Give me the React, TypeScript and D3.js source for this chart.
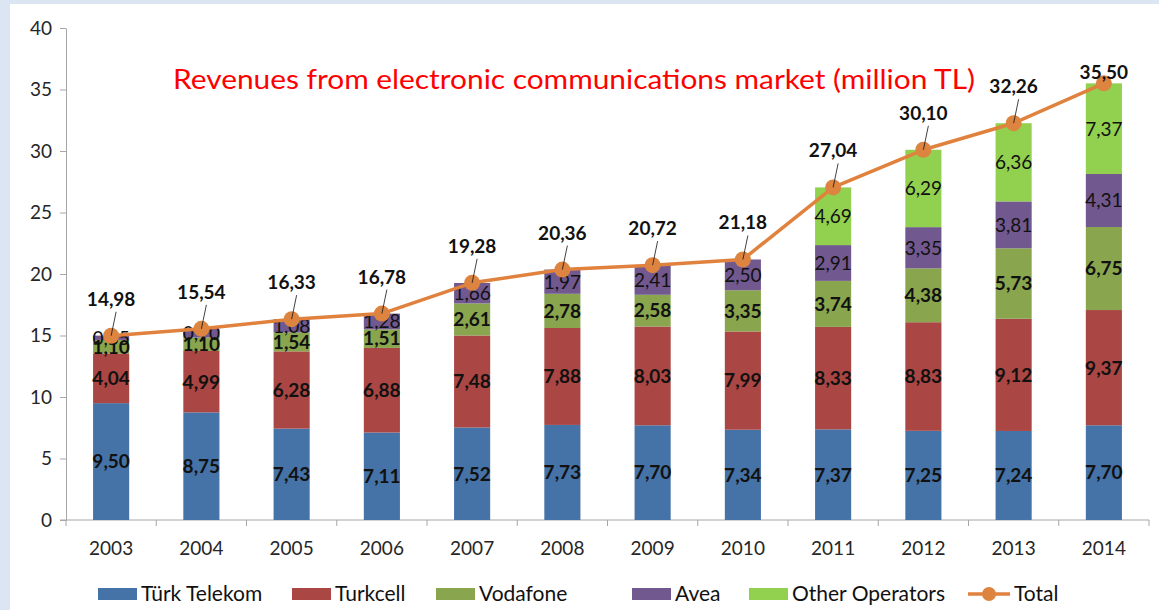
import { useEffect, useRef } from "react";
import * as d3 from "d3";

const years = ["2003", "2004", "2005", "2006", "2007", "2008", "2009", "2010", "2011", "2012", "2013", "2014"];
const turkTelekom = [9.5, 8.75, 7.43, 7.11, 7.52, 7.73, 7.7, 7.34, 7.37, 7.25, 7.24, 7.7];
const turkcell = [4.04, 4.99, 6.28, 6.88, 7.48, 7.88, 8.03, 7.99, 8.33, 8.83, 9.12, 9.37];
const vodafone = [1.1, 1.1, 1.54, 1.51, 2.61, 2.78, 2.58, 3.35, 3.74, 4.38, 5.73, 6.75];
const avea = [0.35, 0.7, 1.08, 1.28, 1.66, 1.97, 2.41, 2.5, 2.91, 3.35, 3.81, 4.31];
const otherOperators = [0, 0, 0, 0, 0, 0, 0, 0, 4.69, 6.29, 6.36, 7.37];
const total = [14.98, 15.54, 16.33, 16.78, 19.28, 20.36, 20.72, 21.18, 27.04, 30.1, 32.26, 35.5];
const yTicks = [0, 5, 10, 15, 20, 25, 30, 35, 40];

const series = [
  { key: "tt", name: "Türk Telekom", values: turkTelekom, color: "#4572a7", bold: true },
  { key: "tc", name: "Turkcell", values: turkcell, color: "#aa4643", bold: true },
  { key: "vf", name: "Vodafone", values: vodafone, color: "#89a54e", bold: true },
  { key: "av", name: "Avea", values: avea, color: "#71588f", bold: false },
  { key: "ot", name: "Other Operators", values: otherOperators, color: "#92d050", bold: false },
];

const FONT = "Lato, 'Open Sans', sans-serif";
const fmt = (v: number) => v.toFixed(2).replace(".", ",");

const App = () => {
  const svgRef = useRef<SVGSVGElement | null>(null);

  useEffect(() => {
    const svg = d3.select(svgRef.current);
    svg.selectAll("*").remove();

    const width = 1159;
    const height = 610;
    const margin = { top: 28, right: 10, bottom: 90, left: 66 };

    // background frame
    svg.append("rect").attr("width", width).attr("height", height).attr("fill", "#dce6f2");
    svg.append("rect").attr("x", 10).attr("y", 4).attr("width", width - 10).attr("height", height - 4).attr("fill", "#fff");

    const x = d3
      .scaleBand()
      .domain(years)
      .range([margin.left, width - margin.right])
      .paddingInner(0.6)
      .paddingOuter(0.3);

    const y = d3
      .scaleLinear()
      .domain([0, 40])
      .range([height - margin.bottom, margin.top]);

    const table = years.map((yr, i) => {
      const row: any = { year: yr };
      series.forEach((s) => (row[s.key] = s.values[i]));
      return row;
    });

    const stacked = d3.stack().keys(series.map((s) => s.key))(table);

    // axes
    const yAxis = svg
      .append("g")
      .attr("transform", `translate(${margin.left},0)`)
      .call(d3.axisLeft(y).tickValues(yTicks).tickSize(6).tickSizeOuter(0).tickPadding(8));
    yAxis.select(".domain").attr("stroke", "#a6a6a6");
    yAxis.selectAll(".tick line").attr("stroke", "#a6a6a6");
    yAxis
      .selectAll(".tick text")
      .attr("font-family", FONT)
      .attr("font-size", 19)
      .attr("fill", "#262626");

    const bandStep = x.step();
    const bounds = d3.range(years.length + 1).map((i) => margin.left + i * bandStep);
    const xg = svg.append("g");
    xg.append("line")
      .attr("x1", margin.left - 6)
      .attr("x2", width - margin.right)
      .attr("y1", y(0))
      .attr("y2", y(0))
      .attr("stroke", "#a6a6a6");
    xg.selectAll("line.tk")
      .data(bounds)
      .join("line")
      .attr("class", "tk")
      .attr("x1", (d) => d)
      .attr("x2", (d) => d)
      .attr("y1", y(0))
      .attr("y2", y(0) + 6)
      .attr("stroke", "#a6a6a6");
    xg.selectAll("text")
      .data(years)
      .join("text")
      .attr("x", (d) => (x(d) as number) + x.bandwidth() / 2)
      .attr("y", y(0) + 35)
      .attr("text-anchor", "middle")
      .attr("font-family", FONT)
      .attr("font-size", 19)
      .attr("fill", "#262626")
      .text((d) => d);

    // bars
    stacked.forEach((layer, li) => {
      const s = series[li];
      svg
        .append("g")
        .selectAll("rect")
        .data(layer)
        .join("rect")
        .attr("x", (d: any) => x(d.data.year) as number)
        .attr("width", x.bandwidth())
        .attr("y", (d) => y(d[1]))
        .attr("height", (d) => y(d[0]) - y(d[1]))
        .attr("fill", s.color);
    });

    // segment labels
    stacked.forEach((layer, li) => {
      const s = series[li];
      svg
        .append("g")
        .selectAll("text")
        .data(layer.filter((d) => d[1] - d[0] > 0))
        .join("text")
        .attr("x", (d: any) => (x(d.data.year) as number) + x.bandwidth() / 2)
        .attr("y", (d) => (y(d[0]) + y(d[1])) / 2)
        .attr("dy", "0.36em")
        .attr("text-anchor", "middle")
        .attr("font-family", FONT)
        .attr("font-size", 19)
        .attr("font-weight", s.bold ? 700 : 400)
        .attr("fill", "#111")
        .text((d) => fmt(d[1] - d[0]));
    });

    // total line
    const cx = (i: number) => (x(years[i]) as number) + x.bandwidth() / 2;
    const line = d3
      .line<number>()
      .x((_, i) => cx(i))
      .y((d) => y(d));

    svg
      .append("path")
      .datum(total)
      .attr("fill", "none")
      .attr("stroke", "#e0823d")
      .attr("stroke-width", 3.5)
      .attr("stroke-linejoin", "round")
      .attr("d", line);

    svg
      .append("g")
      .selectAll("circle")
      .data(total)
      .join("circle")
      .attr("cx", (_, i) => cx(i))
      .attr("cy", (d) => y(d))
      .attr("r", 8)
      .attr("fill", "#dd8540");

    // total labels with leader lines
    const tl = svg.append("g");
    total.forEach((v, i) => {
      const py = y(v);
      const ly = Math.max(py - 30, 79);
      if (py - ly > 20) {
        tl.append("line")
          .attr("x1", cx(i) + 5)
          .attr("y1", ly + 6)
          .attr("x2", cx(i))
          .attr("y2", py)
          .attr("stroke", "#111")
          .attr("stroke-width", 0.8);
      }
      tl.append("text")
        .attr("x", cx(i))
        .attr("y", ly)
        .attr("text-anchor", "middle")
        .attr("font-family", FONT)
        .attr("font-size", 19)
        .attr("font-weight", 700)
        .attr("fill", "#111")
        .text(fmt(v));
    });

    // title
    svg
      .append("text")
      .attr("x", 574)
      .attr("y", 89)
      .attr("text-anchor", "middle")
      .attr("font-family", FONT)
      .attr("font-size", 27)
      .attr("fill", "#ff0000")
      .attr("textLength", 802)
      .attr("lengthAdjust", "spacingAndGlyphs")
      .text("Revenues from electronic communications market (million TL)");

    // legend
    const legendX = [98, 292, 436, 632, 749];
    const ly = 594;
    const lg = svg.append("g");
    series.forEach((s, i) => {
      lg.append("rect")
        .attr("x", legendX[i])
        .attr("y", ly - 6)
        .attr("width", 39)
        .attr("height", 12)
        .attr("fill", s.color);
      lg.append("text")
        .attr("x", legendX[i] + 43)
        .attr("y", ly)
        .attr("dy", "0.35em")
        .attr("font-family", FONT)
        .attr("font-size", 21)
        .attr("fill", "#111")
        .text(s.name);
    });
    lg.append("line")
      .attr("x1", 968)
      .attr("x2", 1010)
      .attr("y1", ly)
      .attr("y2", ly)
      .attr("stroke", "#e0823d")
      .attr("stroke-width", 3.5);
    lg.append("circle").attr("cx", 989).attr("cy", ly).attr("r", 7).attr("fill", "#dd8540");
    lg.append("text")
      .attr("x", 1014)
      .attr("y", ly)
      .attr("dy", "0.35em")
      .attr("font-family", FONT)
      .attr("font-size", 21)
      .attr("fill", "#111")
      .text("Total");
  }, []);

  return (
    <svg
      ref={svgRef}
      width={1159}
      height={610}
      style={{ position: "absolute", left: 0, top: 0, display: "block" }}
    />
  );
};

export default App;
